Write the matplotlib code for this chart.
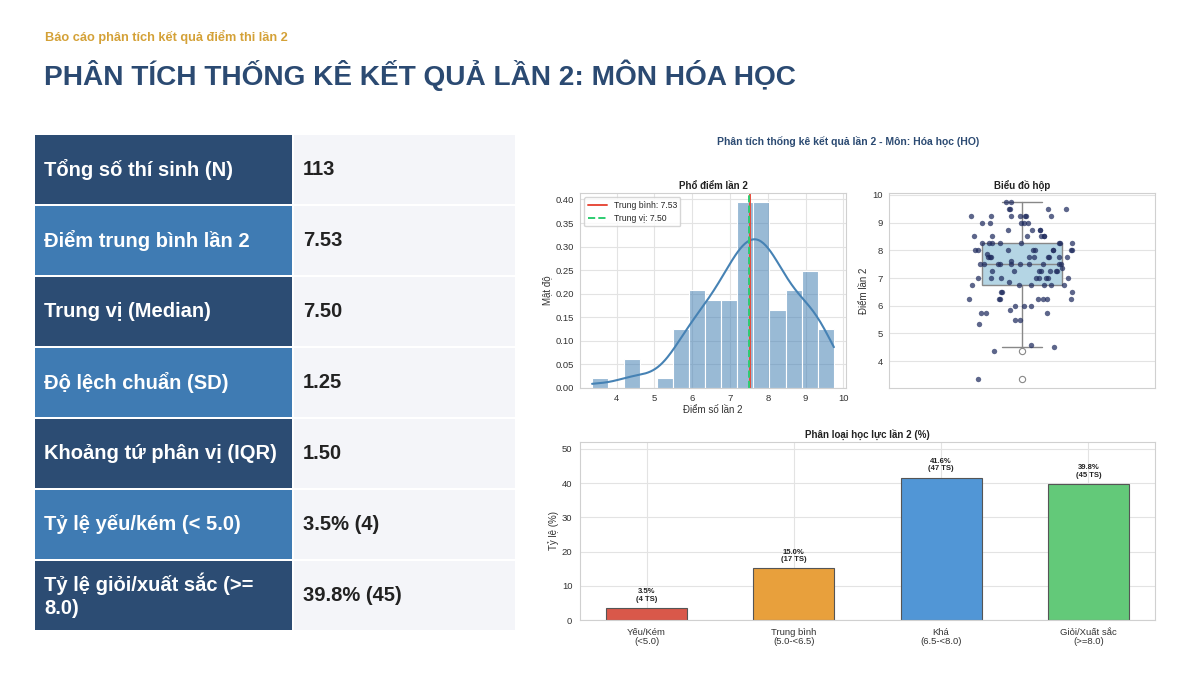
import numpy as np
import pandas as pd
import matplotlib
matplotlib.use("Agg")
import matplotlib.pyplot as plt
import seaborn as sns
from matplotlib.patches import Rectangle

scores = ([3.35, 4.35, 4.5, 4.6]
          + [5.35, 5.5, 5.5, 5.75, 5.75, 5.75, 5.85, 6.0, 6.0, 6.0] + [6.25] * 7
          + [6.5] * 3 + [6.75] * 6
          + [6.85] + [7.0] * 8
          + [7.25] * 7 + [7.35] + [7.5] * 10 + [7.6]
          + [7.75] * 9 + [7.85]
          + [8.0] * 9 + [8.25] * 8
          + [8.5] * 6 + [8.75] * 4
          + [9.0] * 5 + [9.25] * 7
          + [9.5] * 4 + [9.75] * 2)

stat_labels = ["Tổng số thí sinh (N)", "Điểm trung bình lần 2", "Trung vị (Median)",
               "Độ lệch chuẩn (SD)", "Khoảng tứ phân vị (IQR)", "Tỷ lệ yếu/kém (< 5.0)",
               "Tỷ lệ giỏi/xuất sắc (>=\n8.0)"]
stat_values = ["113", "7.53", "7.50", "1.25", "1.50", "3.5% (4)", "39.8% (45)"]

cat_labels = ["Yếu/Kém\n(<5.0)", "Trung bình\n(5.0-<6.5)", "Khá\n(6.5-<8.0)", "Giỏi/Xuất sắc\n(>=8.0)"]
cat_edges = [0, 5.0, 6.5, 8.0, 10.01]
cat_colors = ["#d9584a", "#e8a03c", "#5196d6", "#63c979"]

sns.set_style("whitegrid", {"grid.color": "#e3e3e3", "axes.edgecolor": "#d0d0d0"})
plt.rcParams['font.family'] = ['Liberation Sans', 'DejaVu Sans']

W, H = 1200, 673
fig = plt.figure(figsize=(12, 6.73), dpi=100)
fig.patch.set_facecolor("white")


def fx(px):
    return px / W


def fy(py):
    return 1 - py / H


# header
fig.text(fx(45), fy(37), "Báo cáo phân tích kết quả điểm thi lần 2", color="#d4a137",
         fontsize=9.2, fontweight="bold", va="center")
fig.text(fx(44), fy(75), "PHÂN TÍCH THỐNG KÊ KẾT QUẢ LẦN 2: MÔN HÓA HỌC", color="#2b4a72",
         fontsize=20.2, fontweight="bold", va="center")

# stats table
row_top = 135
row_h = 71
for i, (lab, val) in enumerate(zip(stat_labels, stat_values)):
    top = row_top + i * row_h
    left_col = "#2c4c73" if i % 2 == 0 else "#3f7bb3"
    fig.patches.append(Rectangle((fx(35), fy(top + row_h - 2)), fx(257), (row_h - 2) / H,
                                 transform=fig.transFigure, facecolor=left_col, edgecolor="none"))
    fig.patches.append(Rectangle((fx(294), fy(top + row_h - 2)), fx(221), (row_h - 2) / H,
                                 transform=fig.transFigure, facecolor="#f4f5f9", edgecolor="none"))
    yc = fy(top + (row_h - 2) / 2)
    fig.text(fx(44), yc, lab, color="white", fontsize=14.5, fontweight="bold", va="center",
             linespacing=1.3)
    fig.text(fx(303), yc, val, color="#222222", fontsize=14.5, fontweight="bold", va="center")

# chart panel
fig.text(fx(848), fy(141), "Phân tích thống kê kết quả lần 2 - Môn: Hóa học (HO)",
         color="#2b4a72", fontsize=7.5, fontweight="bold", ha="center", va="center")

s = pd.Series(scores)
mean_v = s.mean()
median_v = s.median()

tick_fs = 6.8
lab_fs = 7
title_fs = 7

# histogram
ax1 = fig.add_axes([fx(580), fy(388), fx(266), 195 / H])
sns.histplot(s, bins=15, stat="density", kde=True, color="steelblue", alpha=0.55,
             edgecolor="white", linewidth=0.8, ax=ax1)
ax1.axvline(mean_v, color="#e74c3c", lw=1.4, label=f"Trung bình: {mean_v:.2f}")
ax1.axvline(median_v, color="#2ecc71", lw=1.4, ls="--", label=f"Trung vị: {median_v:.2f}")
ax1.set_title("Phổ điểm lần 2", fontsize=title_fs, fontweight="bold", color="#222", pad=3)
ax1.set_xlabel("Điểm số lần 2", fontsize=lab_fs, color="#333", labelpad=1)
ax1.set_ylabel("Mật độ", fontsize=lab_fs, color="#333", labelpad=2)
ax1.tick_params(labelsize=tick_fs, colors="#333", pad=1)
ax1.set_xticks([4, 5, 6, 7, 8, 9, 10])
ax1.legend(loc="upper left", fontsize=6.2, frameon=True, borderpad=0.4, handlelength=2.2)

# box plot with strip
ax2 = fig.add_axes([fx(889), fy(388), fx(266), 195 / H])
ax2.boxplot(scores, positions=[0], widths=0.3, patch_artist=True,
            boxprops=dict(facecolor="#b4d5e4", edgecolor="#888888", linewidth=1),
            medianprops=dict(color="#888888", linewidth=1),
            whiskerprops=dict(color="#888888", linewidth=1),
            capprops=dict(color="#888888", linewidth=1),
            flierprops=dict(marker="o", markerfacecolor="white", markeredgecolor="#888888",
                            markersize=4.5, markeredgewidth=0.8))
rng = np.random.default_rng(3)
jitter = rng.uniform(-0.2, 0.2, len(scores))
ax2.scatter(jitter, scores, s=15, color="#1f2b5e", alpha=0.72, linewidths=0, zorder=3)
ax2.set_xlim(-0.5, 0.5)
ax2.set_xticks([])
ax2.set_title("Biểu đồ hộp", fontsize=title_fs, fontweight="bold", color="#222", pad=3)
ax2.set_ylabel("Điểm lần 2", fontsize=lab_fs, color="#333", labelpad=2)
ax2.tick_params(labelsize=tick_fs, colors="#333", pad=1)
ax2.grid(axis="x", visible=False)

# category bars
counts = pd.cut(s, bins=cat_edges, right=False).value_counts(sort=False).values
pcts = counts / len(scores) * 100
ax3 = fig.add_axes([fx(580), fy(620), fx(575), 178 / H])
xs = np.arange(len(cat_labels))
ax3.bar(xs, pcts, width=0.55, color=cat_colors, edgecolor="#555555", linewidth=0.8, zorder=2)
for x, p, c in zip(xs, pcts, counts):
    ax3.text(x, p + 1.5, f"{p:.1f}%\n({c} TS)", ha="center", va="bottom", fontsize=5.5,
             fontweight="bold", color="#222", linespacing=1.1)
ax3.set_ylim(0, pcts.max() * 1.25)
ax3.set_xticks(xs)
ax3.set_xticklabels(cat_labels, fontsize=6.5, color="#333", linespacing=1.1)
ax3.set_title("Phân loại học lực lần 2 (%)", fontsize=title_fs, fontweight="bold", color="#222", pad=3)
ax3.set_ylabel("Tỷ lệ (%)", fontsize=lab_fs, color="#333", labelpad=2)
ax3.tick_params(labelsize=tick_fs, colors="#333", pad=2)

fig.savefig("out.png", dpi=100, facecolor="white")
